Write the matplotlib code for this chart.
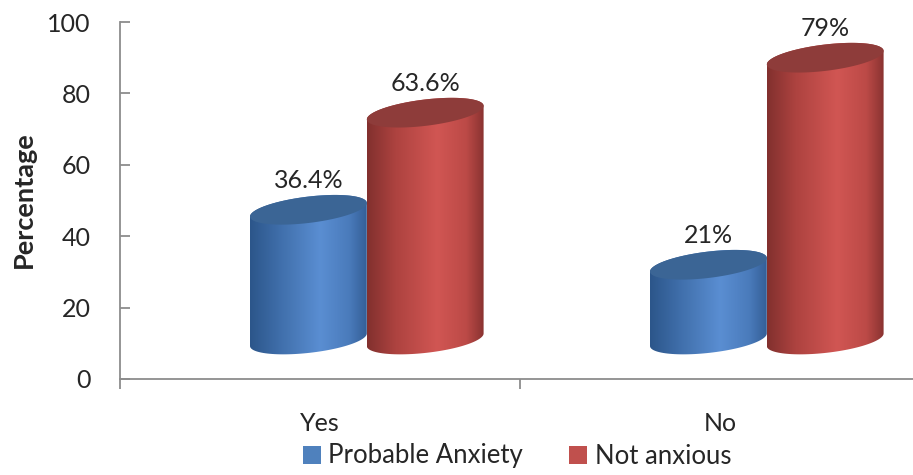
import numpy as np
import matplotlib
matplotlib.use("Agg")
import matplotlib.pyplot as plt
from matplotlib.patches import Polygon, Patch
from matplotlib.colors import to_rgb

# ---------------- data ----------------
categories = ["Yes", "No"]
series_names = ["Probable Anxiety", "Not anxious"]
probable_anxiety = [36.4, 21.0]
not_anxious = [63.6, 79.0]
value_labels_pa = ["36.4%", "21%"]
value_labels_na = ["63.6%", "79%"]
yticks = [0, 20, 40, 60, 80, 100]

# ---------------- style ----------------
plt.rcParams['font.family'] = ['Lato', 'DejaVu Sans']
TXT = "#262626"
FS = 18
legend_colors = ["#4F81BD", "#C0504D"]
body_stops = [
    [(0.0, "#2C568A"), (0.25, "#3F6EAA"), (0.6, "#5A8ED2"), (0.85, "#4A7BBB"), (1.0, "#345F97")],
    [(0.0, "#82302E"), (0.25, "#AE4340"), (0.6, "#D15653"), (0.85, "#BC4A47"), (1.0, "#8A3331")],
]
top_colors = ["#3B6595", "#8E3C3A"]

fig = plt.figure(figsize=(9.13, 4.75), dpi=100)
ax = fig.add_axes([120/913, (475-379)/475, 1-120/913, (379-22)/475])

x = np.arange(len(categories))
XMAX = 1 + (913-720)/400

# 3D look parameters (depth offset and ellipse shape)
depth_dx = 0.117
depth_dy = 11.0
width = 0.292
a = width / 2
b = 3.7
k_top = 13.0
k_bot = 12.0

def gradient_img(stops, n=200):
    ts = np.linspace(0, 1, n)
    st = [s[0] for s in stops]
    cols = np.array([to_rgb(s[1]) for s in stops])
    img = np.zeros((1, n, 3))
    for c in range(3):
        img[0, :, c] = np.interp(ts, st, cols[:, c])
    return img

def cylinder(cx, base, height, stops, topc, z):
    top = base + height
    t_up = np.linspace(np.pi, 0, 60)
    t_dn = np.linspace(0, -np.pi, 60)
    xs_up = cx + a*np.cos(t_up)
    ys_up = top + b*np.sin(t_up) + k_top*(xs_up - cx)
    xs_dn = cx + a*np.cos(t_dn)
    ys_dn = base + b*np.sin(t_dn) + k_bot*(xs_dn - cx)
    body = np.vstack([np.column_stack([xs_up, ys_up]), np.column_stack([xs_dn, ys_dn])])
    poly = Polygon(body, closed=True, facecolor='none', edgecolor='none', zorder=z)
    ax.add_patch(poly)
    im = ax.imshow(gradient_img(stops), extent=[cx-a, cx+a, base-b-6, top+b+6],
                   aspect='auto', zorder=z, interpolation='bilinear')
    im.set_clip_path(poly)
    tt = np.linspace(0, 2*np.pi, 120)
    ex = cx + a*np.cos(tt)
    ey = top + b*np.sin(tt) + k_top*(ex - cx)
    ax.add_patch(Polygon(np.column_stack([ex, ey]), closed=True, facecolor=topc,
                         edgecolor='none', zorder=z+0.5))
    return top

for i in range(len(categories)):
    for s, (vals, labs) in enumerate([(probable_anxiety, value_labels_pa),
                                      (not_anxious, value_labels_na)]):
        cx = x[i] + depth_dx + (s - 0.5) * width
        top = cylinder(cx, depth_dy, vals[i], body_stops[s], top_colors[s], 2 + 2*i + s)
        ax.annotate(labs[i], (cx, top), xytext=(0, 21), textcoords='offset points',
                    ha='center', va='center', fontsize=FS, color=TXT, zorder=10)

ax.set_xlim(-0.5, XMAX)
ax.set_ylim(0, 100)

# axes styling
for sp in ['top', 'right']:
    ax.spines[sp].set_visible(False)
for sp in ['left', 'bottom']:
    ax.spines[sp].set_color('#8C8C8C')
    ax.spines[sp].set_linewidth(1.3)

ax.set_yticks(yticks)
ax.set_yticklabels([str(v) for v in yticks])
ax.tick_params(axis='y', direction='in', length=7, width=1.3, color='#8C8C8C',
               labelsize=FS, labelcolor=TXT, pad=21)
ax.set_xticks(x)
ax.set_xticklabels(categories)
ax.tick_params(axis='x', which='major', length=0, labelsize=FS, labelcolor=TXT, pad=24)
ax.set_xticks([-0.5, 0.5], minor=True)
ax.tick_params(axis='x', which='minor', direction='out', length=7, width=1.3, color='#8C8C8C')

ax.set_ylabel("Percentage", fontsize=19.5, fontweight='bold', color=TXT)
ax.yaxis.set_label_coords(-(120-36)/793, (379-200)/357)

handles = [Patch(facecolor=legend_colors[0]), Patch(facecolor=legend_colors[1])]
fig.legend(handles, series_names, loc='center', bbox_to_anchor=(517/913, 1-456/475),
           ncol=2, frameon=False, fontsize=18.5, handlelength=0.7, handleheight=0.7,
           handletextpad=0.3, columnspacing=1.8, labelcolor=TXT)

fig.savefig("out.png", dpi=100)
